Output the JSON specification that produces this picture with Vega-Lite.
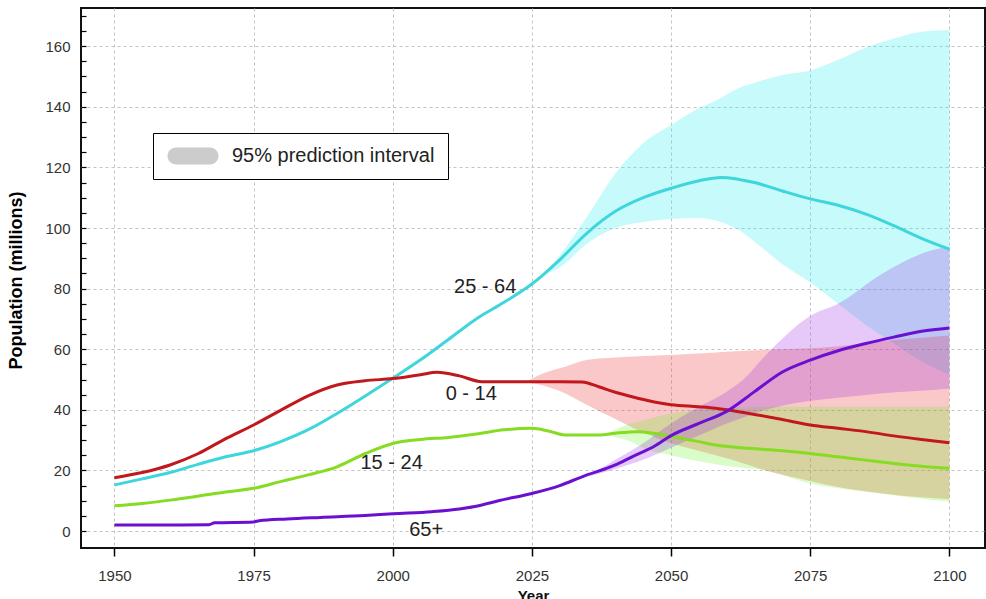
{
  "$schema": "https://vega.github.io/schema/vega-lite/v6.json",
  "width": 904,
  "height": 540,
  "autosize": {"type": "none"},
  "padding": {"left": 81, "top": 8, "right": 1, "bottom": 51},
  "background": "white",
  "config": {
    "view": {"stroke": "#111", "strokeWidth": 2},
    "font": "Liberation Sans",
    "axis": {"labelFont": "Liberation Sans", "titleFont": "Liberation Sans"}
  },
  "datasets": {
    "lines": [
      {"series": "25 - 64", "year": 1950, "value": 15.2},
      {"series": "25 - 64", "year": 1955, "value": 17.2},
      {"series": "25 - 64", "year": 1960, "value": 19.3},
      {"series": "25 - 64", "year": 1965, "value": 22.0},
      {"series": "25 - 64", "year": 1970, "value": 24.5},
      {"series": "25 - 64", "year": 1975, "value": 26.5},
      {"series": "25 - 64", "year": 1980, "value": 29.6},
      {"series": "25 - 64", "year": 1985, "value": 33.6},
      {"series": "25 - 64", "year": 1990, "value": 38.8},
      {"series": "25 - 64", "year": 1995, "value": 44.5},
      {"series": "25 - 64", "year": 2000, "value": 50.4},
      {"series": "25 - 64", "year": 2005, "value": 56.5},
      {"series": "25 - 64", "year": 2010, "value": 63.2},
      {"series": "25 - 64", "year": 2015, "value": 70.0},
      {"series": "25 - 64", "year": 2020, "value": 75.5},
      {"series": "25 - 64", "year": 2025, "value": 81.5},
      {"series": "25 - 64", "year": 2030, "value": 89.5},
      {"series": "25 - 64", "year": 2035, "value": 98.5},
      {"series": "25 - 64", "year": 2040, "value": 105.5},
      {"series": "25 - 64", "year": 2045, "value": 110.0},
      {"series": "25 - 64", "year": 2050, "value": 113.1},
      {"series": "25 - 64", "year": 2055, "value": 115.6},
      {"series": "25 - 64", "year": 2059, "value": 116.7},
      {"series": "25 - 64", "year": 2065, "value": 115.0},
      {"series": "25 - 64", "year": 2070, "value": 112.2},
      {"series": "25 - 64", "year": 2075, "value": 109.6},
      {"series": "25 - 64", "year": 2080, "value": 107.5},
      {"series": "25 - 64", "year": 2085, "value": 104.6},
      {"series": "25 - 64", "year": 2090, "value": 100.8},
      {"series": "25 - 64", "year": 2095, "value": 96.6},
      {"series": "25 - 64", "year": 2100, "value": 93.0},
      {"series": "0 - 14", "year": 1950, "value": 17.6},
      {"series": "0 - 14", "year": 1955, "value": 19.3},
      {"series": "0 - 14", "year": 1960, "value": 21.8},
      {"series": "0 - 14", "year": 1965, "value": 25.5},
      {"series": "0 - 14", "year": 1970, "value": 30.5},
      {"series": "0 - 14", "year": 1975, "value": 35.0},
      {"series": "0 - 14", "year": 1980, "value": 40.0},
      {"series": "0 - 14", "year": 1985, "value": 44.8},
      {"series": "0 - 14", "year": 1990, "value": 48.2},
      {"series": "0 - 14", "year": 1995, "value": 49.6},
      {"series": "0 - 14", "year": 2000, "value": 50.3},
      {"series": "0 - 14", "year": 2005, "value": 51.6},
      {"series": "0 - 14", "year": 2008, "value": 52.4},
      {"series": "0 - 14", "year": 2012, "value": 51.2},
      {"series": "0 - 14", "year": 2016, "value": 49.3},
      {"series": "0 - 14", "year": 2020, "value": 49.3},
      {"series": "0 - 14", "year": 2025, "value": 49.3},
      {"series": "0 - 14", "year": 2030, "value": 49.3},
      {"series": "0 - 14", "year": 2034, "value": 49.2},
      {"series": "0 - 14", "year": 2037, "value": 47.6},
      {"series": "0 - 14", "year": 2040, "value": 45.8},
      {"series": "0 - 14", "year": 2043, "value": 44.3},
      {"series": "0 - 14", "year": 2047, "value": 42.6},
      {"series": "0 - 14", "year": 2050, "value": 41.7},
      {"series": "0 - 14", "year": 2055, "value": 41.0},
      {"series": "0 - 14", "year": 2058, "value": 40.5},
      {"series": "0 - 14", "year": 2064, "value": 38.8},
      {"series": "0 - 14", "year": 2070, "value": 36.8},
      {"series": "0 - 14", "year": 2075, "value": 35.0},
      {"series": "0 - 14", "year": 2080, "value": 33.9},
      {"series": "0 - 14", "year": 2085, "value": 32.8},
      {"series": "0 - 14", "year": 2090, "value": 31.4},
      {"series": "0 - 14", "year": 2095, "value": 30.2},
      {"series": "0 - 14", "year": 2100, "value": 29.1},
      {"series": "15 - 24", "year": 1950, "value": 8.3},
      {"series": "15 - 24", "year": 1955, "value": 9.1},
      {"series": "15 - 24", "year": 1960, "value": 10.2},
      {"series": "15 - 24", "year": 1965, "value": 11.5},
      {"series": "15 - 24", "year": 1970, "value": 12.9},
      {"series": "15 - 24", "year": 1975, "value": 14.1},
      {"series": "15 - 24", "year": 1980, "value": 16.4},
      {"series": "15 - 24", "year": 1985, "value": 18.6},
      {"series": "15 - 24", "year": 1990, "value": 21.2},
      {"series": "15 - 24", "year": 1995, "value": 25.5},
      {"series": "15 - 24", "year": 2000, "value": 28.9},
      {"series": "15 - 24", "year": 2005, "value": 30.2},
      {"series": "15 - 24", "year": 2010, "value": 30.9},
      {"series": "15 - 24", "year": 2015, "value": 32.0},
      {"series": "15 - 24", "year": 2020, "value": 33.4},
      {"series": "15 - 24", "year": 2025, "value": 33.9},
      {"series": "15 - 24", "year": 2028, "value": 33.0},
      {"series": "15 - 24", "year": 2031, "value": 31.7},
      {"series": "15 - 24", "year": 2037, "value": 31.7},
      {"series": "15 - 24", "year": 2040, "value": 32.3},
      {"series": "15 - 24", "year": 2044, "value": 32.8},
      {"series": "15 - 24", "year": 2047, "value": 32.2},
      {"series": "15 - 24", "year": 2050, "value": 31.2},
      {"series": "15 - 24", "year": 2055, "value": 29.5},
      {"series": "15 - 24", "year": 2058, "value": 28.4},
      {"series": "15 - 24", "year": 2064, "value": 27.3},
      {"series": "15 - 24", "year": 2070, "value": 26.5},
      {"series": "15 - 24", "year": 2075, "value": 25.6},
      {"series": "15 - 24", "year": 2080, "value": 24.5},
      {"series": "15 - 24", "year": 2085, "value": 23.4},
      {"series": "15 - 24", "year": 2090, "value": 22.3},
      {"series": "15 - 24", "year": 2095, "value": 21.4},
      {"series": "15 - 24", "year": 2100, "value": 20.7},
      {"series": "65+", "year": 1950, "value": 2.0},
      {"series": "65+", "year": 1960, "value": 2.0},
      {"series": "65+", "year": 1967, "value": 2.1},
      {"series": "65+", "year": 1968, "value": 2.7},
      {"series": "65+", "year": 1975, "value": 3.0},
      {"series": "65+", "year": 1976, "value": 3.4},
      {"series": "65+", "year": 1981, "value": 4.0},
      {"series": "65+", "year": 1987, "value": 4.5},
      {"series": "65+", "year": 1995, "value": 5.1},
      {"series": "65+", "year": 2000, "value": 5.7},
      {"series": "65+", "year": 2007, "value": 6.4},
      {"series": "65+", "year": 2012, "value": 7.3},
      {"series": "65+", "year": 2015, "value": 8.2},
      {"series": "65+", "year": 2019, "value": 10.0},
      {"series": "65+", "year": 2025, "value": 12.4},
      {"series": "65+", "year": 2030, "value": 15.0},
      {"series": "65+", "year": 2034, "value": 17.9},
      {"series": "65+", "year": 2040, "value": 21.8},
      {"series": "65+", "year": 2043, "value": 24.5},
      {"series": "65+", "year": 2047, "value": 28.0},
      {"series": "65+", "year": 2050, "value": 31.5},
      {"series": "65+", "year": 2055, "value": 35.5},
      {"series": "65+", "year": 2060, "value": 39.5},
      {"series": "65+", "year": 2065, "value": 46.0},
      {"series": "65+", "year": 2070, "value": 52.5},
      {"series": "65+", "year": 2075, "value": 56.4},
      {"series": "65+", "year": 2080, "value": 59.5},
      {"series": "65+", "year": 2085, "value": 61.9},
      {"series": "65+", "year": 2090, "value": 64.0},
      {"series": "65+", "year": 2095, "value": 65.9},
      {"series": "65+", "year": 2100, "value": 67.0}
    ],
    "bands": [
      {"series": "25 - 64", "year": 2027, "value": 84.5, "hi": 84.5},
      {"series": "25 - 64", "year": 2030, "value": 87, "hi": 91},
      {"series": "25 - 64", "year": 2035, "value": 95, "hi": 104},
      {"series": "25 - 64", "year": 2040, "value": 100, "hi": 118},
      {"series": "25 - 64", "year": 2045, "value": 102, "hi": 128},
      {"series": "25 - 64", "year": 2050, "value": 103, "hi": 134},
      {"series": "25 - 64", "year": 2055, "value": 103.3, "hi": 139.5},
      {"series": "25 - 64", "year": 2058, "value": 102.5, "hi": 142},
      {"series": "25 - 64", "year": 2062, "value": 99.5, "hi": 146},
      {"series": "25 - 64", "year": 2066, "value": 94, "hi": 148.5},
      {"series": "25 - 64", "year": 2070, "value": 88, "hi": 150.5},
      {"series": "25 - 64", "year": 2075, "value": 82, "hi": 152},
      {"series": "25 - 64", "year": 2080, "value": 75, "hi": 155.5},
      {"series": "25 - 64", "year": 2085, "value": 68, "hi": 159.5},
      {"series": "25 - 64", "year": 2090, "value": 62, "hi": 162.5},
      {"series": "25 - 64", "year": 2095, "value": 56, "hi": 164.8},
      {"series": "25 - 64", "year": 2100, "value": 51.5, "hi": 165.3},
      {"series": "0 - 14", "year": 2024, "value": 49.3, "hi": 49.3},
      {"series": "0 - 14", "year": 2027, "value": 48, "hi": 52},
      {"series": "0 - 14", "year": 2031, "value": 45.4, "hi": 54.2},
      {"series": "0 - 14", "year": 2035, "value": 41.5, "hi": 56.5},
      {"series": "0 - 14", "year": 2040, "value": 37, "hi": 57.3},
      {"series": "0 - 14", "year": 2045, "value": 32.5, "hi": 57.8},
      {"series": "0 - 14", "year": 2050, "value": 29, "hi": 58.1},
      {"series": "0 - 14", "year": 2055, "value": 26.5, "hi": 58.6},
      {"series": "0 - 14", "year": 2060, "value": 24, "hi": 59.2},
      {"series": "0 - 14", "year": 2067, "value": 20, "hi": 59.8},
      {"series": "0 - 14", "year": 2075, "value": 16.5, "hi": 60.3},
      {"series": "0 - 14", "year": 2080, "value": 14.5, "hi": 61},
      {"series": "0 - 14", "year": 2090, "value": 12, "hi": 63},
      {"series": "0 - 14", "year": 2100, "value": 10.5, "hi": 64.5},
      {"series": "15 - 24", "year": 2038, "value": 31.7, "hi": 31.7},
      {"series": "15 - 24", "year": 2042, "value": 30, "hi": 35},
      {"series": "15 - 24", "year": 2046, "value": 26.7, "hi": 37},
      {"series": "15 - 24", "year": 2050, "value": 25, "hi": 38.8},
      {"series": "15 - 24", "year": 2055, "value": 23, "hi": 40},
      {"series": "15 - 24", "year": 2060, "value": 21.5, "hi": 40.5},
      {"series": "15 - 24", "year": 2067, "value": 20, "hi": 41},
      {"series": "15 - 24", "year": 2075, "value": 15.7, "hi": 41},
      {"series": "15 - 24", "year": 2085, "value": 13, "hi": 41},
      {"series": "15 - 24", "year": 2100, "value": 9.7, "hi": 41},
      {"series": "65+", "year": 2035, "value": 17.9, "hi": 17.9},
      {"series": "65+", "year": 2040, "value": 20.5, "hi": 23.5},
      {"series": "65+", "year": 2045, "value": 23.5, "hi": 29},
      {"series": "65+", "year": 2050, "value": 27.5, "hi": 35.5},
      {"series": "65+", "year": 2055, "value": 31.5, "hi": 41},
      {"series": "65+", "year": 2060, "value": 35.5, "hi": 46},
      {"series": "65+", "year": 2063, "value": 37.5, "hi": 50},
      {"series": "65+", "year": 2067, "value": 40, "hi": 58},
      {"series": "65+", "year": 2075, "value": 43, "hi": 71},
      {"series": "65+", "year": 2080, "value": 44, "hi": 75},
      {"series": "65+", "year": 2088, "value": 45.5, "hi": 85},
      {"series": "65+", "year": 2097, "value": 46.5, "hi": 92.7},
      {"series": "65+", "year": 2100, "value": 47, "hi": 93.8}
    ],
    "labels": [
      {"text": "25 - 64", "year": 2016.6, "value": 80.5},
      {"text": "0 - 14", "year": 2014.1, "value": 45.2},
      {"text": "15 - 24", "year": 1999.8, "value": 22.4},
      {"text": "65+", "year": 2006, "value": 0.3}
    ],
    "legendrow": [
      {"key": "95% prediction interval", "year": 1900, "value": 0}
    ]
  },
  "encoding": {
    "x": {
      "field": "year",
      "type": "quantitative",
      "scale": {"domain": [1944, 2106.4], "nice": false, "zero": false},
      "axis": {
        "values": [1950, 1975, 2000, 2025, 2050, 2075, 2100],
        "format": "d",
        "domain": false,
        "grid": true,
        "gridColor": "#c4c4c4",
        "gridDash": [3, 3],
        "gridWidth": 1,
        "ticks": true,
        "tickSize": 8,
        "tickColor": "#000",
        "tickWidth": 1.5,
        "labelFontSize": 15,
        "labelColor": "#333",
        "labelPadding": 12,
        "title": "Year",
        "titleFontSize": 15,
        "titleFontWeight": "bold",
        "titleColor": "#111",
        "titleBaseline": "alphabetic",
        "titleY": 52
      }
    },
    "y": {
      "field": "value",
      "type": "quantitative",
      "scale": {"domain": [-5.6, 172.6], "nice": false, "zero": false},
      "axis": {
        "values": [0, 5, 10, 15, 20, 25, 30, 35, 40, 45, 50, 55, 60, 65, 70, 75, 80, 85, 90, 95, 100, 105, 110, 115, 120, 125, 130, 135, 140, 145, 150, 155, 160, 165, 170],
        "labelExpr": "datum.value % 20 === 0 ? datum.label : ''",
        "domain": false,
        "grid": true,
        "gridColor": {"condition": {"test": "datum.value % 20 === 0", "value": "#c4c4c4"}, "value": "rgba(255,255,255,0)"},
        "gridDash": [3, 3],
        "ticks": true,
        "tickSize": -5,
        "tickColor": "#000",
        "tickWidth": 1.2,
        "labelFontSize": 15,
        "labelColor": "#333",
        "labelPadding": 16,
        "title": "Population (millions)",
        "titleFontSize": 18,
        "titleFontWeight": "bold",
        "titleColor": "#000",
        "titleAlign": "center",
        "titleBaseline": "alphabetic",
        "titleX": -60,
        "titleY": 272
      }
    }
  },
  "layer": [
    {
      "data": {"name": "bands"},
      "mark": {"type": "area", "fillOpacity": 0.25, "clip": true, "interpolate": "monotone"},
      "encoding": {
        "y2": {"field": "hi"},
        "fill": {
          "field": "series",
          "type": "nominal",
          "scale": {"domain": ["25 - 64", "0 - 14", "15 - 24", "65+"], "range": ["#1febeb", "#eb2323", "#6bf327", "#9b27e3"]},
          "legend": null
        }
      }
    },
    {
      "data": {"name": "lines"},
      "mark": {"type": "line", "strokeWidth": 3, "clip": true, "interpolate": "monotone"},
      "encoding": {
        "stroke": {
          "field": "series",
          "type": "nominal",
          "scale": {"domain": ["25 - 64", "0 - 14", "15 - 24", "65+"], "range": ["#3ed6dc", "#c0181c", "#86dc22", "#6a10d0"]},
          "legend": null
        }
      }
    },
    {
      "data": {"name": "labels"},
      "mark": {"type": "text", "fontSize": 20, "font": "Liberation Sans", "color": "#222", "align": "center", "baseline": "middle"},
      "encoding": {
        "text": {"field": "text"}
      }
    },
    {
      "data": {"name": "legendrow"},
      "mark": {"type": "point", "filled": true, "color": "#cccccc", "clip": true},
      "encoding": {
        "shape": {
          "field": "key",
          "type": "nominal",
          "scale": {"range": ["M0,-1 L4,-1 A1,1 0 0 1 4,1 L0,1 A1,1 0 0 1 0,-1 Z"]},
          "legend": {
            "orient": "none",
            "legendX": 72,
            "legendY": 125,
            "title": null,
            "strokeColor": "#000",
            "fillColor": "white",
            "padding": 13,
            "symbolSize": 289,
            "symbolFillColor": "#cccccc",
            "symbolStrokeColor": "#cccccc",
            "symbolStrokeWidth": 0,
            "symbolOpacity": 1,
            "labelFont": "Liberation Sans",
            "labelFontSize": 20,
            "labelColor": "#222",
            "labelOffset": 46,
            "labelLimit": 400
          }
        }
      }
    }
  ]
}
